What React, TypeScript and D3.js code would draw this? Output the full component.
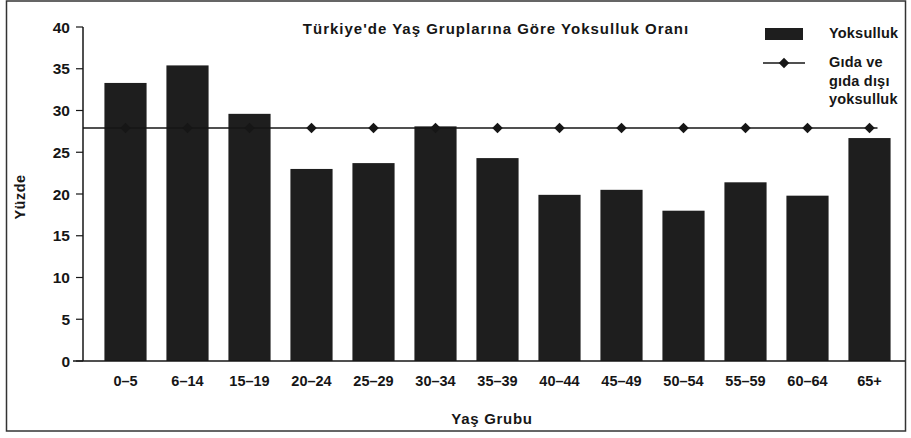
import React from 'react';
import * as d3 from 'd3';

const ageGroups = ['0–5', '6–14', '15–19', '20–24', '25–29', '30–34', '35–39', '40–44', '45–49', '50–54', '55–59', '60–64', '65+'];
const poverty = [33.3, 35.4, 29.6, 23.0, 23.7, 28.1, 24.3, 19.9, 20.5, 18.0, 21.4, 19.8, 26.7];
const foodNonFood = [27.9, 27.9, 27.9, 27.9, 27.9, 27.9, 27.9, 27.9, 27.9, 27.9, 27.9, 27.9, 27.9];
const yTicks = [0, 5, 10, 15, 20, 25, 30, 35, 40];

const W = 911;
const H = 438;
const font = '"Liberation Sans", Arial, sans-serif';
const ink = '#161616';

export default function App() {
  const axisX = 83;
  const x = d3.scaleBand<string>()
    .domain(ageGroups)
    .range([axisX + 11.5, 900.5])
    .paddingInner(0.32)
    .paddingOuter(0.16);
  const y = d3.scaleLinear().domain([0, 40]).range([361, 27]);

  const cx = (g: string) => (x(g) as number) + x.bandwidth() / 2;
  const linePts: [number, number][] = foodNonFood.map((v, i) => [cx(ageGroups[i]), y(v)]);
  const lineD = d3.line()([[axisX, y(foodNonFood[0])], ...linePts, [cx(ageGroups[ageGroups.length - 1]) + 8, y(foodNonFood[foodNonFood.length - 1])]]);
  const diamond = d3.symbol(d3.symbolDiamond2, 70);

  return (
    <svg width={W} height={H} style={{ position: 'absolute', left: 0, top: 0, background: '#fff' }}>
      <rect x={6.5} y={1} width={899} height={430} fill="none" stroke="#333" strokeWidth={1.5} />

      <text x={496} y={34} textAnchor="middle" fontFamily={font} fontWeight="bold" fontSize={15} letterSpacing={1} fill={ink}>
        Türkiye'de Yaş Gruplarına Göre Yoksulluk Oranı
      </text>

      {/* bars */}
      {poverty.map((v, i) => (
        <rect key={i} x={x(ageGroups[i])} y={y(v)} width={x.bandwidth()} height={y(0) - y(v)} fill="#1e1e1e" />
      ))}

      {/* line */}
      <path d={lineD || ''} fill="none" stroke={ink} strokeWidth={1.5} />
      {linePts.map((p, i) => (
        <path key={i} d={diamond() || ''} transform={`translate(${p[0]},${p[1]})`} fill={ink} />
      ))}

      {/* y axis */}
      <line x1={axisX} x2={axisX} y1={y(40)} y2={y(0)} stroke={ink} strokeWidth={1.5} />
      <line x1={73} x2={905} y1={y(0)} y2={y(0)} stroke={ink} strokeWidth={1.5} />
      {yTicks.map(t => (
        <g key={t}>
          <line x1={axisX - 7} x2={axisX} y1={y(t)} y2={y(t)} stroke={ink} strokeWidth={1.2} />
          <text x={70} y={y(t) + 5.5} textAnchor="end" fontFamily={font} fontWeight="bold" fontSize={15.5} fill={ink}>{t}</text>
        </g>
      ))}
      <text transform={`translate(25,${(y(0) + y(40)) / 2 + 3}) rotate(-90)`} textAnchor="middle" fontFamily={font} fontWeight="bold" fontSize={14.5} letterSpacing={0.5} fill={ink}>Yüzde</text>

      {/* x labels */}
      {ageGroups.map(g => (
        <text key={g} x={cx(g)} y={386} textAnchor="middle" fontFamily={font} fontWeight="bold" fontSize={14.5} fill={ink}>{g}</text>
      ))}
      <text x={492} y={424} textAnchor="middle" fontFamily={font} fontWeight="bold" fontSize={15} letterSpacing={0.7} fill={ink}>Yaş Grubu</text>

      {/* legend */}
      <rect x={765} y={28} width={38} height={12} fill="#1e1e1e" />
      <text x={829} y={38} fontFamily={font} fontWeight="bold" fontSize={14.5} letterSpacing={0.2} fill={ink}>Yoksulluk</text>
      <line x1={763} x2={805} y1={63} y2={63} stroke={ink} strokeWidth={1.5} />
      <path d={diamond() || ''} transform="translate(784,63)" fill={ink} />
      <text fontFamily={font} fontWeight="bold" fontSize={14.5} letterSpacing={0.2} fill={ink}>
        <tspan x={829} y={67}>Gıda ve</tspan>
        <tspan x={829} y={85.5}>gıda dışı</tspan>
        <tspan x={829} y={104}>yoksulluk</tspan>
      </text>
    </svg>
  );
}
